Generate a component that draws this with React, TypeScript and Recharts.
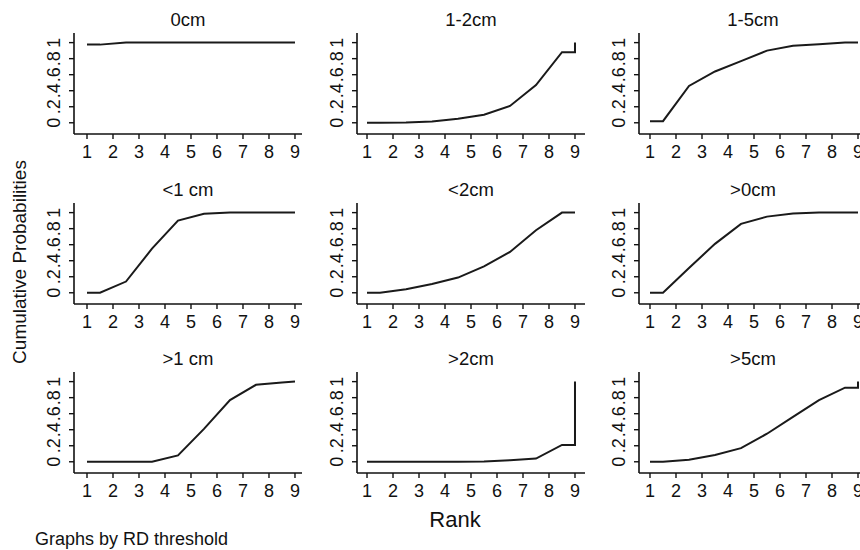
import React from "react";
import { LineChart, Line, XAxis, YAxis } from "recharts";

// Rank positions at which the cumulative probabilities are plotted
const RANKS = [1, 1.5, 2.5, 3.5, 4.5, 5.5, 6.5, 7.5, 8.5, 9, 9];
const X_TICKS = [1, 2, 3, 4, 5, 6, 7, 8, 9];
const Y_TICKS = [0, 0.2, 0.4, 0.6, 0.8, 1];
const Y_TICK_LABELS = ["0", ".2", ".4", ".6", ".8", "1"];

// Cumulative probabilities per RD threshold
const P_0CM = [0.975, 0.975, 1, 1, 1, 1, 1, 1, 1, 1, 1];
const P_1_2CM = [0, 0, 0.003, 0.015, 0.05, 0.1, 0.21, 0.47, 0.88, 0.88, 1];
const P_1_5CM = [0.02, 0.02, 0.46, 0.64, 0.77, 0.9, 0.96, 0.98, 1, 1, 1];
const P_LT1CM = [0, 0, 0.14, 0.55, 0.9, 0.985, 1, 1, 1, 1, 1];
const P_LT2CM = [0, 0, 0.045, 0.11, 0.19, 0.33, 0.51, 0.78, 1, 1, 1];
const P_GT0CM = [0, 0, 0.31, 0.61, 0.86, 0.95, 0.99, 1, 1, 1, 1];
const P_GT1CM = [0, 0, 0, 0, 0.08, 0.41, 0.77, 0.96, 0.99, 1, 1];
const P_GT2CM = [0, 0, 0, 0, 0, 0.005, 0.02, 0.04, 0.21, 0.21, 1];
const P_GT5CM = [0, 0, 0.025, 0.085, 0.17, 0.35, 0.56, 0.77, 0.925, 0.925, 1];

const TITLES = ["0cm", "1-2cm", "1-5cm", "<1 cm", "<2cm", ">0cm", ">1 cm", ">2cm", ">5cm"];
const SERIES = [P_0CM, P_1_2CM, P_1_5CM, P_LT1CM, P_LT2CM, P_GT0CM, P_GT1CM, P_GT2CM, P_GT5CM];

const FONT = "'Liberation Sans', Arial, sans-serif";
const INK = "#111";

// layout of plot regions
const COL_LEFT = [74, 357, 639];
const COL_DOMAIN: [number, number][] = [
  [0.5, 9.27],
  [0.615, 9.385],
  [0.577, 9.346],
];
const ROW_TOP = [33, 203, 372];
const PLOT_W = 228;
const PLOT_H = 101;
const Y_AXIS_W = 40;
const TOP_M = 5;
const X_AXIS_H = 32;

const XTick = (props: any) => {
  const { x, y, payload } = props;
  return (
    <text x={x} y={y} dy={17} textAnchor="middle" fontSize={18} fill={INK} fontFamily={FONT}>
      {payload.value}
    </text>
  );
};

const YTick = (props: any) => {
  const { x, y, payload } = props;
  const idx = Y_TICKS.indexOf(payload.value);
  const label = idx >= 0 ? Y_TICK_LABELS[idx] : String(payload.value);
  const px = x - 7;
  return (
    <text
      x={px}
      y={y}
      transform={`rotate(-90 ${px} ${y})`}
      textAnchor="middle"
      fontSize={18}
      fill={INK}
      fontFamily={FONT}
    >
      {label}
    </text>
  );
};

function Panel({ values, col, row }: { values: number[]; col: number; row: number }) {
  const data = RANKS.map((r, i) => ({ rank: r, p: values[i] }));
  const left = COL_LEFT[col] - Y_AXIS_W;
  const top = ROW_TOP[row] - TOP_M;
  const width = Y_AXIS_W + PLOT_W;
  const height = TOP_M + PLOT_H + X_AXIS_H;
  return (
    <div style={{ position: "absolute", left, top, width, height }}>
      <LineChart width={width} height={height} data={data} margin={{ top: TOP_M, right: 0, bottom: 0, left: 0 }}>
        <XAxis
          dataKey="rank"
          type="number"
          domain={COL_DOMAIN[col]}
          ticks={X_TICKS}
          interval={0}
          allowDataOverflow
          height={X_AXIS_H}
          tickSize={5}
          tickMargin={2}
          axisLine={{ stroke: INK, strokeWidth: 1.6 }}
          tickLine={{ stroke: INK, strokeWidth: 1.4 }}
          tick={<XTick />}
        />
        <YAxis
          type="number"
          domain={[-0.14, 1.12]}
          ticks={Y_TICKS}
          interval={0}
          allowDataOverflow
          width={Y_AXIS_W}
          tickSize={5}
          tickMargin={2}
          axisLine={{ stroke: INK, strokeWidth: 1.6 }}
          tickLine={{ stroke: INK, strokeWidth: 1.4 }}
          tick={<YTick />}
        />
        <Line
          type="linear"
          dataKey="p"
          stroke="#1a1a1a"
          strokeWidth={2}
          dot={false}
          activeDot={false}
          isAnimationActive={false}
        />
      </LineChart>
    </div>
  );
}

export default function App() {
  return (
    <div
      style={{
        position: "absolute",
        left: 0,
        top: 0,
        width: 860,
        height: 550,
        overflow: "hidden",
        background: "#fff",
        fontFamily: FONT,
      }}
    >
      {SERIES.map((vals, i) => (
        <Panel key={i} values={vals} col={i % 3} row={Math.floor(i / 3)} />
      ))}
      <svg width={860} height={550} style={{ position: "absolute", left: 0, top: 0, pointerEvents: "none" }}>
        {TITLES.map((t, i) => {
          const col = i % 3;
          const row = Math.floor(i / 3);
          return (
            <text
              key={t}
              x={COL_LEFT[col] + PLOT_W / 2}
              y={ROW_TOP[row] - 7}
              textAnchor="middle"
              fontSize={18.5}
              fill={INK}
              fontFamily={FONT}
            >
              {t}
            </text>
          );
        })}
        <text
          x={26}
          y={262}
          transform="rotate(-90 26 262)"
          textAnchor="middle"
          fontSize={19}
          fill={INK}
          fontFamily={FONT}
        >
          Cumulative Probabilities
        </text>
        <text x={455} y={527} textAnchor="middle" fontSize={22} fill={INK} fontFamily={FONT}>
          Rank
        </text>
        <text x={35} y={545} fontSize={18} fill={INK} fontFamily={FONT}>
          Graphs by RD threshold
        </text>
      </svg>
    </div>
  );
}
